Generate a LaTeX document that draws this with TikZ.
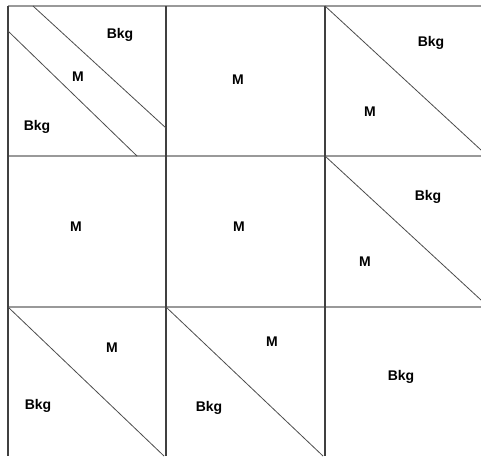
\documentclass[tikz,border=0pt]{standalone}
\usepackage{fontspec}
\setmainfont{Liberation Sans}
\usetikzlibrary{positioning}
\tikzset{
    vline/.style={line width=1.8pt, black!75},
    hline/.style={line width=1.6pt, black!40},
    cut/.style={line width=0.8pt, black!70},
    region/.style={font=\fontsize{14}{14}\selectfont\bfseries, inner sep=0pt},
}
\begin{document}
\begin{tikzpicture}[x=1pt, y=-1pt]
    \useasboundingbox (0,0) rectangle (481,456);
    % grid
    \draw[hline] (8,6) -- (481,6);
    \draw[hline] (8,156) -- (481,156);
    \draw[hline] (8,307) -- (481,307);
    \draw[vline] (8,6) -- (8,456);
    \draw[vline] (166,6) -- (166,456);
    \draw[vline] (325,6) -- (325,456);
    % boundaries inside the cells
    \draw[cut] (33,6) -- (166,128);
    \draw[cut] (8,31) -- (137,156);
    \draw[cut] (325,6) -- (481,150);
    \draw[cut] (325,156) -- (481,300);
    \draw[cut] (8,307) -- (164,456);
    \draw[cut] (166,307) -- (323,456);
    % labels, top row
    \node[region] (bkgA) at (120,35) {Bkg};
    \node[region] (mA)   at (78,77)  {M};
    \node[region] (bkgB) at (37,127) {Bkg};
    \node[region] (mB)   at (238,80) {M};
    \node[region] (bkgC) at (431,43) {Bkg};
    \node[region] (mC)   at (370,112) {M};
    % labels, middle row
    \node[region] (mD)   at (76,227)  {M};
    \node[region] (mE)   at (239,227) {M};
    \node[region] (bkgF) at (428,197) {Bkg};
    \node[region] (mF)   at (365,262) {M};
    % labels, bottom row
    \node[region] (mG)   at (112,348) {M};
    \node[region] (bkgG) at (38,406)  {Bkg};
    \node[region] (mH)   at (272,342) {M};
    \node[region] (bkgH) at (209,408) {Bkg};
    \node[region] (bkgI) at (401,377) {Bkg};
\end{tikzpicture}
\end{document}
